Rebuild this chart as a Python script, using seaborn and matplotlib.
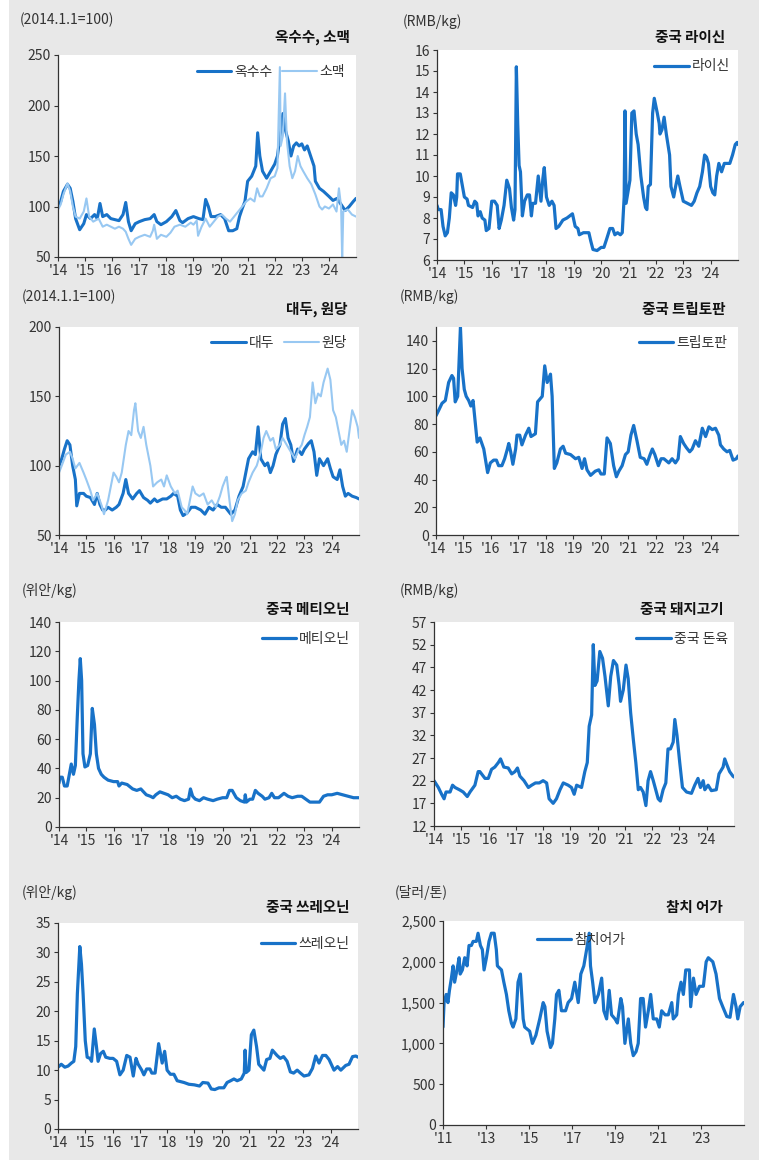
import numpy as np
import pandas as pd
import matplotlib
matplotlib.use("Agg")
import matplotlib.pyplot as plt
import seaborn as sns
from matplotlib.patches import Rectangle
from matplotlib.ticker import FuncFormatter

# ---- data (decimal year, value) ----
corn = [(2014.0, 100), (2014.1, 105), (2014.2, 115), (2014.35, 122), (2014.45, 118), (2014.55, 105),
        (2014.65, 88), (2014.8, 77), (2014.95, 83), (2015.05, 92), (2015.2, 88), (2015.35, 92),
        (2015.45, 88), (2015.55, 103), (2015.65, 90), (2015.8, 92), (2015.95, 88), (2016.1, 87),
        (2016.25, 86), (2016.4, 92), (2016.5, 104), (2016.6, 85), (2016.7, 76), (2016.85, 83),
        (2017.0, 85), (2017.2, 87), (2017.4, 88), (2017.55, 92), (2017.65, 85), (2017.8, 82),
        (2018.0, 85), (2018.2, 90), (2018.35, 96), (2018.5, 86), (2018.6, 84), (2018.8, 88),
        (2019.0, 90), (2019.2, 88), (2019.35, 87), (2019.45, 107), (2019.55, 100), (2019.65, 90),
        (2019.8, 90), (2020.0, 92), (2020.15, 88), (2020.3, 76), (2020.45, 76), (2020.6, 78),
        (2020.7, 90), (2020.8, 98), (2020.9, 105), (2021.0, 125), (2021.15, 130), (2021.3, 140),
        (2021.37, 173), (2021.45, 150), (2021.55, 135), (2021.7, 128), (2021.85, 135), (2022.0, 142),
        (2022.1, 150), (2022.2, 170), (2022.3, 192), (2022.4, 175), (2022.5, 165), (2022.6, 150),
        (2022.7, 160), (2022.8, 163), (2022.9, 160), (2023.0, 162), (2023.1, 156), (2023.2, 160),
        (2023.3, 152), (2023.45, 140), (2023.5, 125), (2023.65, 118), (2023.8, 115), (2024.0, 110),
        (2024.15, 106), (2024.3, 108), (2024.45, 102), (2024.6, 96), (2024.75, 100), (2024.9, 105),
        (2025.0, 108)]
wheat = [(2014.0, 97), (2014.1, 102), (2014.2, 112), (2014.35, 123), (2014.45, 115), (2014.55, 100),
         (2014.65, 90), (2014.8, 88), (2014.95, 95), (2015.05, 108), (2015.15, 90), (2015.3, 85),
         (2015.5, 88), (2015.65, 80), (2015.8, 82), (2015.95, 80), (2016.1, 78), (2016.25, 80),
         (2016.4, 78), (2016.5, 75), (2016.6, 68), (2016.7, 62), (2016.85, 68), (2017.0, 70),
         (2017.2, 72), (2017.4, 70), (2017.5, 76), (2017.55, 82), (2017.65, 68), (2017.8, 72),
         (2018.0, 70), (2018.15, 74), (2018.3, 80), (2018.5, 82), (2018.7, 80), (2018.9, 84),
         (2019.0, 82), (2019.12, 86), (2019.17, 71), (2019.3, 80), (2019.45, 88), (2019.6, 80),
         (2019.75, 85), (2019.9, 90), (2020.05, 92), (2020.2, 88), (2020.35, 85), (2020.5, 90),
         (2020.65, 95), (2020.8, 100), (2020.95, 105), (2021.1, 108), (2021.25, 105), (2021.35, 118),
         (2021.45, 110), (2021.55, 110), (2021.7, 118), (2021.85, 128), (2022.0, 130), (2022.1, 138),
         (2022.19, 238), (2022.22, 160), (2022.3, 170), (2022.38, 212), (2022.45, 165), (2022.55, 140),
         (2022.65, 128), (2022.75, 135), (2022.85, 150), (2022.95, 140), (2023.05, 135), (2023.2, 128),
         (2023.35, 122), (2023.5, 112), (2023.65, 100), (2023.75, 97), (2023.85, 100), (2024.0, 98),
         (2024.15, 102), (2024.28, 95), (2024.37, 118), (2024.45, 100), (2024.49, 48), (2024.53, 95),
         (2024.7, 97), (2024.85, 92), (2025.0, 90)]
lysine = [(2014.0, 8.6), (2014.05, 8.4), (2014.15, 8.4), (2014.22, 7.6), (2014.3, 7.15), (2014.38, 7.3),
          (2014.45, 8.0), (2014.52, 9.2), (2014.6, 9.1), (2014.68, 8.6), (2014.72, 9.0), (2014.75, 10.1),
          (2014.85, 10.1), (2014.92, 9.6), (2015.0, 9.0), (2015.1, 8.9), (2015.15, 8.6), (2015.3, 8.5),
          (2015.38, 8.8), (2015.45, 8.7), (2015.5, 8.1), (2015.58, 8.3), (2015.65, 8.0), (2015.75, 7.9),
          (2015.8, 7.4), (2015.9, 7.5), (2016.0, 8.8), (2016.1, 8.8), (2016.2, 8.6), (2016.27, 7.5),
          (2016.35, 7.9), (2016.45, 8.6), (2016.55, 9.8), (2016.65, 9.4), (2016.72, 8.5), (2016.8, 7.9),
          (2016.85, 8.4), (2016.9, 15.2), (2016.95, 12.5), (2017.0, 10.5), (2017.05, 10.2), (2017.12, 8.1),
          (2017.2, 8.8), (2017.3, 9.1), (2017.38, 9.1), (2017.45, 8.1), (2017.5, 8.7), (2017.6, 8.7),
          (2017.7, 10.0), (2017.75, 9.4), (2017.8, 8.8), (2017.87, 9.9), (2017.92, 10.4), (2018.0, 9.0),
          (2018.1, 8.6), (2018.2, 8.8), (2018.28, 8.6), (2018.35, 7.5), (2018.45, 7.6), (2018.6, 7.9),
          (2018.75, 8.0), (2018.95, 8.2), (2019.05, 7.6), (2019.15, 7.5), (2019.2, 7.2), (2019.35, 7.3),
          (2019.55, 7.3), (2019.62, 6.9), (2019.7, 6.5), (2019.85, 6.45), (2020.0, 6.6), (2020.1, 6.6),
          (2020.2, 7.0), (2020.32, 7.5), (2020.42, 7.5), (2020.5, 7.2), (2020.6, 7.3), (2020.7, 7.2),
          (2020.77, 7.3), (2020.84, 9.0), (2020.87, 13.1), (2020.91, 8.7), (2021.0, 9.4), (2021.05, 9.8),
          (2021.12, 13.0), (2021.2, 13.1), (2021.28, 12.0), (2021.35, 11.5), (2021.45, 10.0), (2021.55, 9.0),
          (2021.62, 8.5), (2021.67, 8.4), (2021.72, 9.5), (2021.8, 9.6), (2021.88, 13.0), (2021.94, 13.7),
          (2022.05, 13.0), (2022.12, 12.5), (2022.15, 12.0), (2022.22, 12.2), (2022.3, 12.8), (2022.38, 12.0),
          (2022.5, 11.0), (2022.55, 9.5), (2022.65, 9.0), (2022.72, 9.5), (2022.8, 10.0), (2022.88, 9.5),
          (2023.0, 8.8), (2023.15, 8.7), (2023.3, 8.6), (2023.4, 8.8), (2023.5, 9.2), (2023.6, 9.5),
          (2023.7, 10.2), (2023.78, 11.0), (2023.85, 10.9), (2023.92, 10.6), (2024.0, 9.5), (2024.08, 9.2),
          (2024.15, 9.1), (2024.22, 10.0), (2024.3, 10.6), (2024.4, 10.2), (2024.5, 10.6), (2024.7, 10.6),
          (2024.8, 11.0), (2024.9, 11.5), (2024.97, 11.6), (2025.0, 11.5)]
soybean = [(2014.0, 100), (2014.1, 105), (2014.2, 112), (2014.3, 118), (2014.4, 115), (2014.5, 100),
           (2014.6, 90), (2014.65, 71), (2014.75, 80), (2014.9, 80), (2015.0, 78), (2015.15, 77),
           (2015.3, 72), (2015.4, 80), (2015.5, 72), (2015.6, 68), (2015.7, 68), (2015.8, 70),
           (2015.95, 68), (2016.1, 70), (2016.2, 72), (2016.35, 80), (2016.45, 90), (2016.55, 80),
           (2016.7, 76), (2016.85, 80), (2016.95, 82), (2017.1, 77), (2017.25, 75), (2017.35, 73),
           (2017.5, 76), (2017.6, 74), (2017.8, 76), (2017.95, 76), (2018.1, 78), (2018.2, 80),
           (2018.35, 78), (2018.45, 68), (2018.55, 64), (2018.7, 66), (2018.85, 70), (2019.0, 70),
           (2019.2, 68), (2019.35, 65), (2019.5, 70), (2019.65, 68), (2019.8, 72), (2019.95, 70),
           (2020.1, 70), (2020.3, 65), (2020.45, 68), (2020.6, 78), (2020.75, 85), (2020.85, 95),
           (2020.95, 105), (2021.1, 110), (2021.2, 108), (2021.3, 128), (2021.4, 105), (2021.55, 100),
           (2021.65, 102), (2021.75, 95), (2021.85, 100), (2021.95, 108), (2022.1, 115), (2022.2, 130),
           (2022.3, 134), (2022.4, 120), (2022.5, 115), (2022.6, 103), (2022.75, 112), (2022.9, 108),
           (2023.0, 112), (2023.15, 116), (2023.25, 118), (2023.35, 110), (2023.45, 93), (2023.55, 105),
           (2023.7, 100), (2023.85, 105), (2023.95, 98), (2024.05, 92), (2024.2, 90), (2024.3, 97),
           (2024.4, 85), (2024.5, 78), (2024.6, 80), (2024.75, 78), (2024.9, 77), (2025.0, 76)]
sugar = [(2014.0, 95), (2014.1, 100), (2014.25, 108), (2014.4, 110), (2014.5, 105), (2014.6, 98),
         (2014.75, 102), (2014.9, 95), (2015.0, 90), (2015.15, 82), (2015.25, 75), (2015.4, 80),
         (2015.55, 72), (2015.65, 65), (2015.8, 75), (2015.9, 85), (2016.0, 95), (2016.1, 92),
         (2016.2, 88), (2016.3, 95), (2016.45, 115), (2016.55, 125), (2016.65, 122), (2016.75, 140),
         (2016.8, 145), (2016.9, 125), (2017.0, 120), (2017.1, 128), (2017.2, 115), (2017.35, 100),
         (2017.45, 85), (2017.6, 88), (2017.75, 90), (2017.85, 85), (2017.95, 93), (2018.1, 85),
         (2018.25, 80), (2018.35, 82), (2018.5, 70), (2018.6, 68), (2018.7, 65), (2018.8, 75),
         (2018.9, 85), (2019.0, 80), (2019.15, 78), (2019.3, 80), (2019.45, 72), (2019.6, 75),
         (2019.75, 70), (2019.9, 78), (2020.0, 85), (2020.1, 90), (2020.15, 92), (2020.25, 75),
         (2020.35, 60), (2020.45, 65), (2020.55, 75), (2020.7, 80), (2020.85, 82), (2020.95, 88),
         (2021.1, 95), (2021.25, 100), (2021.4, 110), (2021.5, 120), (2021.6, 125), (2021.75, 118),
         (2021.85, 120), (2021.95, 112), (2022.1, 115), (2022.2, 120), (2022.35, 115), (2022.5, 110),
         (2022.65, 105), (2022.8, 112), (2022.9, 115), (2023.0, 122), (2023.1, 128), (2023.2, 135),
         (2023.3, 160), (2023.4, 145), (2023.5, 152), (2023.6, 150), (2023.7, 160), (2023.85, 170),
         (2023.95, 162), (2024.05, 140), (2024.15, 135), (2024.25, 125), (2024.35, 115), (2024.45, 118),
         (2024.55, 110), (2024.65, 125), (2024.75, 140), (2024.85, 135), (2024.95, 128), (2025.0, 120)]
tryptophan = [(2014.0, 86), (2014.1, 90), (2014.22, 95), (2014.34, 97), (2014.46, 110), (2014.58, 115),
              (2014.64, 113), (2014.7, 96), (2014.79, 100), (2014.89, 150), (2014.95, 120), (2015.03, 105),
              (2015.1, 100), (2015.19, 97), (2015.27, 93), (2015.35, 97), (2015.41, 85), (2015.5, 67),
              (2015.6, 70), (2015.74, 62), (2015.88, 45), (2015.98, 52), (2016.1, 54), (2016.2, 54),
              (2016.28, 50), (2016.4, 50), (2016.5, 55), (2016.6, 62), (2016.65, 66), (2016.72, 60),
              (2016.8, 51), (2016.9, 62), (2016.95, 72), (2017.05, 72), (2017.13, 65), (2017.26, 72),
              (2017.38, 77), (2017.46, 71), (2017.62, 73), (2017.7, 96), (2017.87, 100), (2017.96, 122),
              (2018.05, 110), (2018.17, 116), (2018.23, 100), (2018.31, 48), (2018.4, 52), (2018.53, 62),
              (2018.63, 64), (2018.72, 59), (2018.9, 58), (2019.08, 55), (2019.2, 56), (2019.32, 48),
              (2019.41, 55), (2019.5, 47), (2019.63, 43), (2019.8, 46), (2019.93, 47), (2020.01, 44),
              (2020.13, 44), (2020.23, 70), (2020.35, 66), (2020.47, 50), (2020.57, 42), (2020.66, 46),
              (2020.78, 50), (2020.9, 58), (2021.0, 60), (2021.1, 72), (2021.2, 79), (2021.32, 68),
              (2021.44, 56), (2021.58, 55), (2021.68, 51), (2021.8, 58), (2021.88, 62), (2021.97, 58),
              (2022.1, 50), (2022.2, 55), (2022.3, 55), (2022.48, 52), (2022.6, 55), (2022.72, 52),
              (2022.82, 55), (2022.9, 71), (2023.02, 66), (2023.12, 63), (2023.24, 60), (2023.33, 62),
              (2023.45, 68), (2023.57, 64), (2023.7, 77), (2023.82, 71), (2023.94, 78), (2024.06, 76),
              (2024.18, 77), (2024.3, 72), (2024.36, 65), (2024.48, 62), (2024.6, 60), (2024.7, 61),
              (2024.82, 54), (2024.94, 55), (2025.0, 57)]
methionine = [(2014.0, 30), (2014.03, 34), (2014.12, 34), (2014.2, 28), (2014.3, 28), (2014.38, 36),
              (2014.45, 43), (2014.53, 36), (2014.6, 42), (2014.67, 75), (2014.73, 100), (2014.78, 115),
              (2014.83, 100), (2014.88, 50), (2014.95, 41), (2015.05, 42), (2015.15, 50), (2015.22, 81),
              (2015.3, 70), (2015.37, 50), (2015.45, 40), (2015.55, 36), (2015.65, 34), (2015.8, 32),
              (2016.0, 31), (2016.15, 31), (2016.2, 28), (2016.3, 30), (2016.5, 29), (2016.7, 26),
              (2016.85, 25), (2017.0, 26), (2017.1, 24), (2017.2, 22), (2017.35, 21), (2017.45, 20),
              (2017.55, 22), (2017.7, 24), (2017.85, 23), (2018.0, 22), (2018.15, 20), (2018.3, 21),
              (2018.45, 19), (2018.6, 18), (2018.75, 19), (2018.82, 26), (2018.9, 21), (2019.0, 19),
              (2019.15, 18), (2019.3, 20), (2019.45, 19), (2019.65, 18), (2019.8, 19), (2020.0, 20),
              (2020.15, 20), (2020.25, 25), (2020.35, 25), (2020.5, 20), (2020.65, 18), (2020.8, 17),
              (2020.83, 22), (2020.87, 17), (2021.0, 19), (2021.1, 19), (2021.2, 25), (2021.3, 23),
              (2021.45, 21), (2021.55, 19), (2021.7, 20), (2021.8, 23), (2021.9, 20), (2022.05, 20),
              (2022.25, 23), (2022.4, 21), (2022.55, 20), (2022.75, 21), (2022.9, 21), (2023.05, 19),
              (2023.2, 17), (2023.4, 17), (2023.55, 17), (2023.7, 21), (2023.85, 22), (2024.0, 22),
              (2024.2, 23), (2024.4, 22), (2024.6, 21), (2024.8, 20), (2025.0, 20)]
pork = [(2014.0, 22), (2014.16, 20.5), (2014.28, 19), (2014.37, 18), (2014.44, 19.5), (2014.59, 19.5),
        (2014.68, 21), (2014.77, 20.5), (2014.93, 20), (2015.07, 19.5), (2015.22, 18.5), (2015.32, 19.5),
        (2015.5, 21), (2015.62, 24), (2015.68, 24), (2015.87, 22.5), (2015.99, 22.5), (2016.11, 24.5),
        (2016.23, 25), (2016.36, 26), (2016.44, 26.8), (2016.56, 25), (2016.72, 24.8), (2016.85, 23.5),
        (2016.97, 24), (2017.06, 24.8), (2017.15, 23), (2017.3, 22), (2017.46, 20.5), (2017.58, 21),
        (2017.72, 21.5), (2017.86, 21.5), (2018.0, 22), (2018.13, 21.5), (2018.22, 18), (2018.37, 17),
        (2018.49, 18), (2018.62, 20), (2018.74, 21.5), (2018.92, 21), (2019.04, 20.5), (2019.14, 19),
        (2019.23, 21), (2019.41, 20.5), (2019.53, 24), (2019.62, 26), (2019.69, 34), (2019.78, 36.5),
        (2019.84, 52), (2019.9, 43), (2019.98, 44), (2020.08, 50.5), (2020.18, 49), (2020.27, 45),
        (2020.39, 38.5), (2020.48, 45), (2020.58, 48.5), (2020.7, 47.5), (2020.79, 43), (2020.84, 39.5),
        (2020.94, 42), (2021.04, 47.5), (2021.12, 44.5), (2021.21, 37), (2021.31, 31), (2021.4, 26),
        (2021.49, 20), (2021.57, 20.5), (2021.67, 19.5), (2021.77, 16.5), (2021.85, 22), (2021.94, 24),
        (2022.04, 22), (2022.13, 20), (2022.22, 18), (2022.3, 17.5), (2022.4, 20), (2022.5, 21.5),
        (2022.58, 29), (2022.67, 29), (2022.77, 30.5), (2022.83, 35.5), (2022.91, 32), (2023.01, 26),
        (2023.11, 20.5), (2023.26, 19.5), (2023.44, 19.2), (2023.56, 21), (2023.68, 22.5), (2023.77, 20.5),
        (2023.87, 22), (2023.93, 20), (2024.05, 21), (2024.17, 19.8), (2024.35, 20), (2024.45, 23.5),
        (2024.6, 25), (2024.66, 26.8), (2024.74, 25.5), (2024.84, 24), (2024.96, 23), (2025.0, 22.8)]
threonine = [(2014.0, 10.5), (2014.12, 11), (2014.25, 10.5), (2014.37, 10.7), (2014.49, 11.2), (2014.58, 11.5),
             (2014.65, 14), (2014.71, 23), (2014.8, 31), (2014.86, 28), (2014.92, 23), (2015.0, 15),
             (2015.07, 12.2), (2015.17, 12), (2015.23, 11.5), (2015.33, 17), (2015.41, 14), (2015.47, 11.5),
             (2015.56, 12.8), (2015.66, 13.2), (2015.75, 12.2), (2015.9, 12), (2016.02, 12), (2016.15, 11.5),
             (2016.27, 9.2), (2016.39, 10), (2016.52, 12.5), (2016.64, 12.2), (2016.76, 9), (2016.86, 12),
             (2016.94, 11), (2017.07, 10), (2017.15, 9.2), (2017.25, 10.2), (2017.37, 10.2), (2017.44, 9.5),
             (2017.56, 9.5), (2017.69, 14.5), (2017.82, 11.2), (2017.91, 13.2), (2018.0, 10), (2018.12, 9.3),
             (2018.25, 9.3), (2018.37, 8.2), (2018.62, 7.9), (2018.8, 7.6), (2019.0, 7.5), (2019.19, 7.3),
             (2019.31, 7.9), (2019.5, 7.8), (2019.62, 6.8), (2019.75, 6.7), (2019.9, 7), (2020.08, 7),
             (2020.2, 7.9), (2020.33, 8.2), (2020.45, 8.5), (2020.57, 8.2), (2020.72, 8.5), (2020.83, 9.5),
             (2020.86, 13.4), (2020.9, 9.6), (2021.0, 10), (2021.09, 16), (2021.18, 16.8), (2021.28, 14),
             (2021.36, 11), (2021.55, 10), (2021.65, 11.8), (2021.77, 12), (2021.86, 13.4), (2022.03, 12.5),
             (2022.15, 12), (2022.27, 12.3), (2022.4, 11.5), (2022.52, 9.7), (2022.64, 9.5), (2022.77, 10),
             (2022.89, 9.5), (2023.02, 9), (2023.2, 9.2), (2023.33, 10.3), (2023.45, 12.4), (2023.57, 11.2),
             (2023.7, 12.5), (2023.82, 12.5), (2023.94, 11.8), (2024.12, 10), (2024.25, 10.6), (2024.37, 10),
             (2024.55, 10.8), (2024.67, 11), (2024.8, 12.3), (2024.92, 12.4), (2025.0, 12.2)]
tuna = [(2011.0, 1200), (2011.05, 1500), (2011.15, 1600), (2011.23, 1500), (2011.3, 1650), (2011.39, 1800),
        (2011.47, 1950), (2011.54, 1750), (2011.65, 1900), (2011.75, 2050), (2011.8, 1850), (2011.9, 1900),
        (2012.01, 2050), (2012.12, 1950), (2012.21, 2200), (2012.32, 2200), (2012.4, 2250), (2012.55, 2250),
        (2012.63, 2350), (2012.74, 2200), (2012.83, 2150), (2012.91, 1900), (2013.02, 2050), (2013.14, 2250),
        (2013.25, 2350), (2013.38, 2350), (2013.48, 2150), (2013.53, 1950), (2013.72, 1900), (2013.83, 1750),
        (2013.95, 1600), (2014.06, 1400), (2014.18, 1250), (2014.26, 1200), (2014.39, 1300), (2014.49, 1750),
        (2014.6, 1850), (2014.73, 1300), (2014.8, 1200), (2015.03, 1150), (2015.16, 1000), (2015.32, 1100),
        (2015.5, 1300), (2015.66, 1500), (2015.74, 1450), (2015.84, 1150), (2016.0, 950), (2016.09, 1000),
        (2016.2, 1300), (2016.28, 1600), (2016.39, 1650), (2016.51, 1400), (2016.7, 1400), (2016.82, 1500),
        (2016.98, 1550), (2017.13, 1750), (2017.29, 1500), (2017.41, 1850), (2017.55, 1950), (2017.68, 2150),
        (2017.8, 2350), (2017.86, 1950), (2017.96, 1750), (2018.07, 1500), (2018.23, 1600), (2018.38, 1800),
        (2018.48, 1400), (2018.61, 1300), (2018.73, 1650), (2018.84, 1350), (2019.0, 1300), (2019.11, 1250),
        (2019.27, 1550), (2019.35, 1450), (2019.46, 1000), (2019.62, 1300), (2019.73, 1000), (2019.85, 850),
        (2019.98, 900), (2020.08, 1000), (2020.19, 1550), (2020.31, 1550), (2020.42, 1200), (2020.55, 1400),
        (2020.66, 1600), (2020.78, 1300), (2020.94, 1300), (2021.06, 1200), (2021.17, 1400), (2021.33, 1350),
        (2021.48, 1350), (2021.64, 1500), (2021.71, 1300), (2021.87, 1350), (2021.95, 1600), (2022.07, 1750),
        (2022.18, 1600), (2022.29, 1900), (2022.46, 1900), (2022.52, 1450), (2022.65, 1800), (2022.77, 1600),
        (2022.93, 1700), (2023.11, 1700), (2023.24, 2000), (2023.34, 2050), (2023.55, 2000), (2023.7, 1850),
        (2023.86, 1550), (2024.01, 1450), (2024.2, 1330), (2024.35, 1320), (2024.51, 1600), (2024.63, 1450),
        (2024.71, 1300), (2024.82, 1450), (2024.98, 1500), (2025.0, 1500)]

years_a = list(range(2014, 2025))
labels_a = ["'" + str(y)[2:] for y in years_a]
years_b = list(range(2011, 2025, 2))
labels_b = ["'" + str(y)[2:] for y in years_b]

DARK = "#1872c8"
LIGHT = "#98c8f2"
W, H = 764, 1160
FS = 10

sns.set_theme(style="ticks")
plt.rcParams["font.family"] = ["Noto Sans CJK KR", "DejaVu Sans"]
plt.rcParams["axes.unicode_minus"] = False

fig = plt.figure(figsize=(W / 100, H / 100), dpi=100)
fig.patch.set_facecolor("white")
fig.patches.append(Rectangle((9 / W, 0), 750 / W, 1, transform=fig.transFigure,
                             facecolor="#e8e8e8", edgecolor="none", zorder=-10))


def panel(box, series, ylim, yticks, xlim, xticks, xlabels, unit, unit_xy, title, title_xy,
          leg_anchor, leg_loc="upper right", fmt=None):
    x1, y1, x2, y2 = box
    ax = fig.add_axes([x1 / W, 1 - y2 / H, (x2 - x1) / W, (y2 - y1) / H])
    ax.set_facecolor("white")
    for name, data, color, lw in series:
        df = pd.DataFrame(data, columns=["x", "y"])
        sns.lineplot(data=df, x="x", y="y", ax=ax, color=color, lw=lw, label=name,
                     estimator=None, sort=False)
    ax.set_xlim(*xlim)
    ax.set_ylim(*ylim)
    ax.set_xticks(xticks)
    ax.set_xticklabels(xlabels)
    ax.set_yticks(yticks)
    if fmt:
        ax.yaxis.set_major_formatter(FuncFormatter(fmt))
    ax.set_xlabel("")
    ax.set_ylabel("")
    sns.despine(ax=ax)
    for s in ["left", "bottom"]:
        ax.spines[s].set_color("#333333")
        ax.spines[s].set_linewidth(0.9)
    ax.tick_params(direction="out", length=3, width=0.8, color="#333333",
                   labelsize=FS, labelcolor="#333333", pad=2)
    ax.legend(loc=leg_loc, bbox_to_anchor=leg_anchor, frameon=False, ncol=len(series),
              fontsize=FS, handlelength=2.5, handletextpad=0.2, columnspacing=0.7,
              borderpad=0, borderaxespad=0, labelcolor="#333333")
    fig.text(unit_xy[0] / W, 1 - unit_xy[1] / H, unit, fontsize=FS, color="#333333",
             ha="left", va="center")
    fig.text(title_xy[0] / W, 1 - title_xy[1] / H, title, fontsize=10.5, fontweight="bold",
             color="#111111", ha="right", va="center")
    return ax


xa = (2014, 2025)
panel((58, 55, 356, 257), [("옥수수", corn, DARK, 2.2), ("소맥", wheat, LIGHT, 1.5)],
      (50, 250), range(50, 251, 50), xa, years_a, labels_a,
      "(2014.1.1=100)", (20, 20), "옥수수, 소맥", (350, 37), (0.963, 0.95))
panel((437, 50, 738, 260), [("라이신", lysine, DARK, 2.3)],
      (6, 16), range(6, 17), xa, years_a, labels_a,
      "(RMB/kg)", (403, 22), "중국 라이신", (725, 37), (0.973, 0.955))
panel((59, 327, 359, 535), [("대두", soybean, DARK, 2.2), ("원당", sugar, LIGHT, 1.5)],
      (50, 200), range(50, 201, 50), xa, years_a, labels_a,
      "(2014.1.1=100)", (22, 297), "대두, 원당", (347, 309), (0.96, 0.955))
panel((436, 327, 738, 535), [("트립토판", tryptophan, DARK, 2.3)],
      (0, 150), range(0, 141, 20), xa, years_a, labels_a,
      "(RMB/kg)", (400, 297), "중국 트립토판", (725, 309), (0.964, 0.955))
panel((59, 622, 359, 827), [("메티오닌", methionine, DARK, 2.3)],
      (0, 140), range(0, 141, 20), xa, years_a, labels_a,
      "(위안/kg)", (22, 591), "중국 메티오닌", (349, 609), (0.97, 0.95))
panel((434, 622, 734, 826), [("중국 돈육", pork, DARK, 2.3)],
      (12, 57), range(12, 58, 5), xa, years_a, labels_a,
      "(RMB/kg)", (400, 591), "중국 돼지고기", (723, 609), (0.98, 0.95))
panel((58, 923, 358, 1129), [("쓰레오닌", threonine, DARK, 2.3)],
      (0, 35), range(0, 36, 5), xa, years_a, labels_a,
      "(위안/kg)", (22, 893), "중국 쓰레오닌", (349, 907), (0.97, 0.932))
panel((443, 921, 744, 1125), [("참치어가", tuna, DARK, 2.3)],
      (0, 2500), range(0, 2501, 500), (2011, 2025), years_b, labels_b,
      "(달러/톤)", (395, 893), "참치 어가", (723, 907), (0.605, 0.94),
      fmt=lambda v, p: f"{int(v):,}")

fig.savefig("out.png", dpi=100)
